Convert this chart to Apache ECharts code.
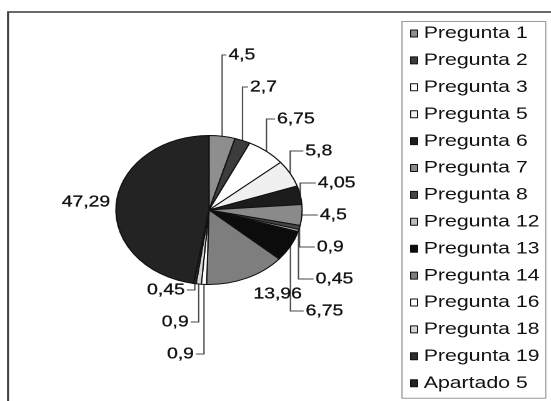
<!DOCTYPE html>
<html>
<head>
<meta charset="utf-8">
<script src="https://cdn.jsdelivr.net/npm/echarts@6/dist/echarts.min.js"></script>
<style>
  html, body { margin: 0; padding: 0; background: #fff; overflow: hidden; }
  /* the chart is drawn narrow and widened horizontally, which turns the pie into an ellipse */
  #chart { width: 441px; height: 401px; transform: scaleX(1.25); transform-origin: 0 0; }
</style>
</head>
<body>
<div id="chart"></div>
<script>
// ---- data ----
const categories = ['Pregunta 1', 'Pregunta 2', 'Pregunta 3', 'Pregunta 5', 'Pregunta 6',
  'Pregunta 7', 'Pregunta 8', 'Pregunta 12', 'Pregunta 13', 'Pregunta 14',
  'Pregunta 16', 'Pregunta 18', 'Pregunta 19', 'Apartado 5'];
const values = [4.5, 2.7, 6.75, 5.8, 4.05, 4.5, 0.9, 0.45, 6.75, 13.96, 0.9, 0.9, 0.45, 47.29];

// ---- styles ----
const sliceColors = ['#8e8e8e', '#3c3c3c', '#ffffff', '#f0f0f0', '#1c1c1c', '#8a8a8a', '#444444',
  '#bcbcbc', '#0c0c0c', '#7e7e7e', '#ffffff', '#d6d6d6', '#2e2e2e', '#232323'];
const STRETCH = 1.25;          // horizontal widening applied by CSS
const CX = 167.2, CY = 210, R = 74.5;
const FONT = "'Liberation Sans', Arial, sans-serif";
const TEXT_COLOR = '#111111';
const STEP = 32;               // vertical distance between stacked labels
const RIGHT_TOP = 55, LEFT_TOP = 290;

// label placement groups, decided from the slice size and its mid angle
const total = values.reduce((a, b) => a + b, 0);
let acc = 0;
const groups = values.map(v => {
  const mid = (acc + v / 2) / total * 360;
  acc += v;
  if (v >= 40) return 'side';
  if (v >= 10) return 'edge';
  return mid < 180 ? 'right' : 'left';
});
const rank = [];
let nRight = 0;
groups.forEach((g, i) => { if (g === 'right') rank[i] = nRight++; });
let nLeft = 0;
for (let i = groups.length - 1; i >= 0; i--) if (groups[i] === 'left') rank[i] = nLeft++;

const fmt = v => String(v).replace('.', ',');

const chart = echarts.init(document.getElementById('chart'), null, { renderer: 'canvas', devicePixelRatio: 2 });

chart.setOption({
  animation: false,
  backgroundColor: '#ffffff',
  graphic: [{
    type: 'rect', silent: true,
    shape: { x: 6.4, y: 12, width: 800, height: 800 },
    style: { fill: 'none', stroke: '#3a3a3a', lineWidth: 1.6 }
  }],
  legend: {
    orient: 'vertical',
    left: 321.6, top: 21.5,
    padding: [3.5, 5, 6.5, 6.4],
    backgroundColor: '#ffffff',
    borderColor: '#9a9a9a', borderWidth: 1,
    icon: 'rect', itemWidth: 5.5, itemHeight: 7, itemGap: 9.9,
    itemStyle: { borderColor: '#111', borderWidth: 1 },
    selectedMode: false,
    textStyle: { fontFamily: FONT, fontSize: 17, lineHeight: 17, color: TEXT_COLOR },
    data: categories
  },
  series: [{
    type: 'pie',
    center: [CX, CY], radius: R,
    startAngle: 90, clockwise: true,
    avoidLabelOverlap: false,
    emphasis: { disabled: true },
    itemStyle: { borderColor: '#111', borderWidth: 1 },
    label: {
      show: true, position: 'outside',
      fontFamily: FONT, fontSize: 15.5, color: TEXT_COLOR,
      textBorderColor: TEXT_COLOR, textBorderWidth: 0.3,
      formatter: p => fmt(p.value)
    },
    labelLine: { show: true, lineStyle: { color: '#4a4a4a', width: 1.1 } },
    data: categories.map((name, i) => ({
      name, value: values[i],
      itemStyle: { color: sliceColors[i] },
      labelLine: { show: groups[i] === 'right' || groups[i] === 'left' }
    })),
    labelLayout: p => {
      const i = p.dataIndex;
      const pts = p.labelLinePoints;
      if (!pts) return {};
      const ex = pts[0][0], ey = pts[0][1];
      const X = ex * STRETCH;
      const sinT = (ex - CX) / R;
      const g = groups[i];
      if (g === 'right') {
        const y = RIGHT_TOP + STEP * rank[i];
        const lx = (X + 6 + 12 * sinT * sinT) / STRETCH;
        return {
          x: lx, y, align: 'left', verticalAlign: 'middle',
          labelLinePoints: [[ex, ey], [ex, y], [lx - 2 / STRETCH, y]]
        };
      }
      if (g === 'left') {
        const y = LEFT_TOP + STEP * rank[i];
        const rx = (X - 10) / STRETCH;
        return {
          x: rx, y, align: 'right', verticalAlign: 'middle',
          labelLinePoints: [[ex, ey], [ex, y], [rx + 2 / STRETCH, y]]
        };
      }
      if (g === 'edge') {
        return { x: (X + 7) / STRETCH, y: ey + 16, align: 'left', verticalAlign: 'middle' };
      }
      return { x: (X - 6) / STRETCH, y: ey - 1.5, align: 'right', verticalAlign: 'middle' };
    }
  }]
});
</script>
</body>
</html>
